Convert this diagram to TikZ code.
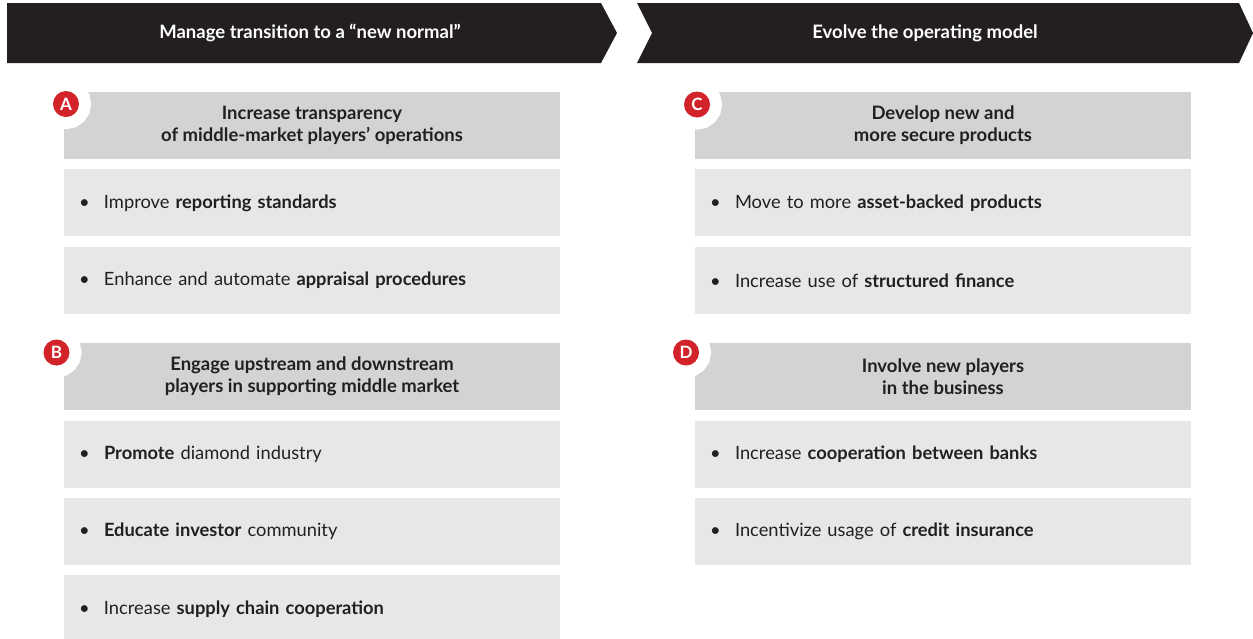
\documentclass[tikz,border=0pt]{standalone}
\usepackage{fontspec}
\setmainfont{Lato}
\usepackage{xcolor}
\definecolor{phasedark}{HTML}{231F20}
\definecolor{headgray}{HTML}{D1D3D4}
\definecolor{itemgray}{HTML}{E6E7E8}
\definecolor{badgered}{HTML}{D2232A}
\usetikzlibrary{positioning}
\newcommand{\itembullet}{\makebox[25pt][l]{\textbullet}}

\begin{document}
\begin{tikzpicture}[
    x=1pt, y=1pt,
    node distance=10pt,
    phase/.style={fill=phasedark},
    phasetext/.style={text=white, font=\fontsize{18.5}{20}\selectfont\bfseries},
    box/.style={minimum width=496pt, minimum height=67pt, inner sep=0pt, text=phasedark},
    head/.style={box, fill=headgray, align=center, font=\fontsize{18.5}{22}\selectfont\bfseries},
    item/.style={box, fill=itemgray, text width=466pt, inner xsep=15pt, align=left, font=\fontsize{18.3}{20}\selectfont},
    badge/.style={circle, fill=badgered, text=white, minimum size=26pt, inner sep=0pt, font=\fontsize{17}{17}\selectfont\bfseries, preaction={draw=white, line width=24pt}},
]
\useasboundingbox (0,0) rectangle (1253,-638);

% Phase arrows
\fill[phase] (7,-3) -- (601,-3) -- (617,-33) -- (601,-63) -- (7,-63) -- cycle;
\node[phasetext] (manage) at (310,-33) {Manage transition to a “new normal”};
\fill[phase] (637,-3) -- (1239,-3) -- (1253,-33) -- (1239,-63) -- (637,-63) -- (652,-33) -- cycle;
\node[phasetext] (evolve) at (925,-33) {Evolve the operating model};

% Left column
\node[head] (transp) at (312,-125.5) {Increase transparency\\of middle-market players’ operations};
\node[item, below=of transp] (report) {\itembullet Improve \textbf{reporting standards}};
\node[item, below=of report] (apprais) {\itembullet Enhance and automate \textbf{appraisal procedures}};
\node[head, below=29pt of apprais] (engage) {Engage upstream and downstream\\players in supporting middle market};
\node[item, below=of engage] (promote) {\itembullet \textbf{Promote} diamond industry};
\node[item, below=of promote] (educate) {\itembullet \textbf{Educate investor} community};
\node[item, below=of educate] (supply) {\itembullet Increase \textbf{supply chain cooperation}};

% Right column
\node[head] (develop) at (943,-125.5) {Develop new and\\more secure products};
\node[item, below=of develop] (asset) {\itembullet Move to more \textbf{asset-backed products}};
\node[item, below=of asset] (struct) {\itembullet Increase use of \textbf{structured finance}};
\node[head, below=29pt of struct] (involve) {Involve new players\\in the business};
\node[item, below=of involve] (banks) {\itembullet Increase \textbf{cooperation between banks}};
\node[item, below=of banks] (insur) {\itembullet Incentivize usage of \textbf{credit insurance}};

% Badges
\node[badge] (badgeA) at (66,-104) {A};
\node[badge] (badgeB) at (56.5,-352.5) {B};
\node[badge] (badgeC) at (697,-104.5) {C};
\node[badge] (badgeD) at (686,-352.5) {D};

\end{tikzpicture}
\end{document}
